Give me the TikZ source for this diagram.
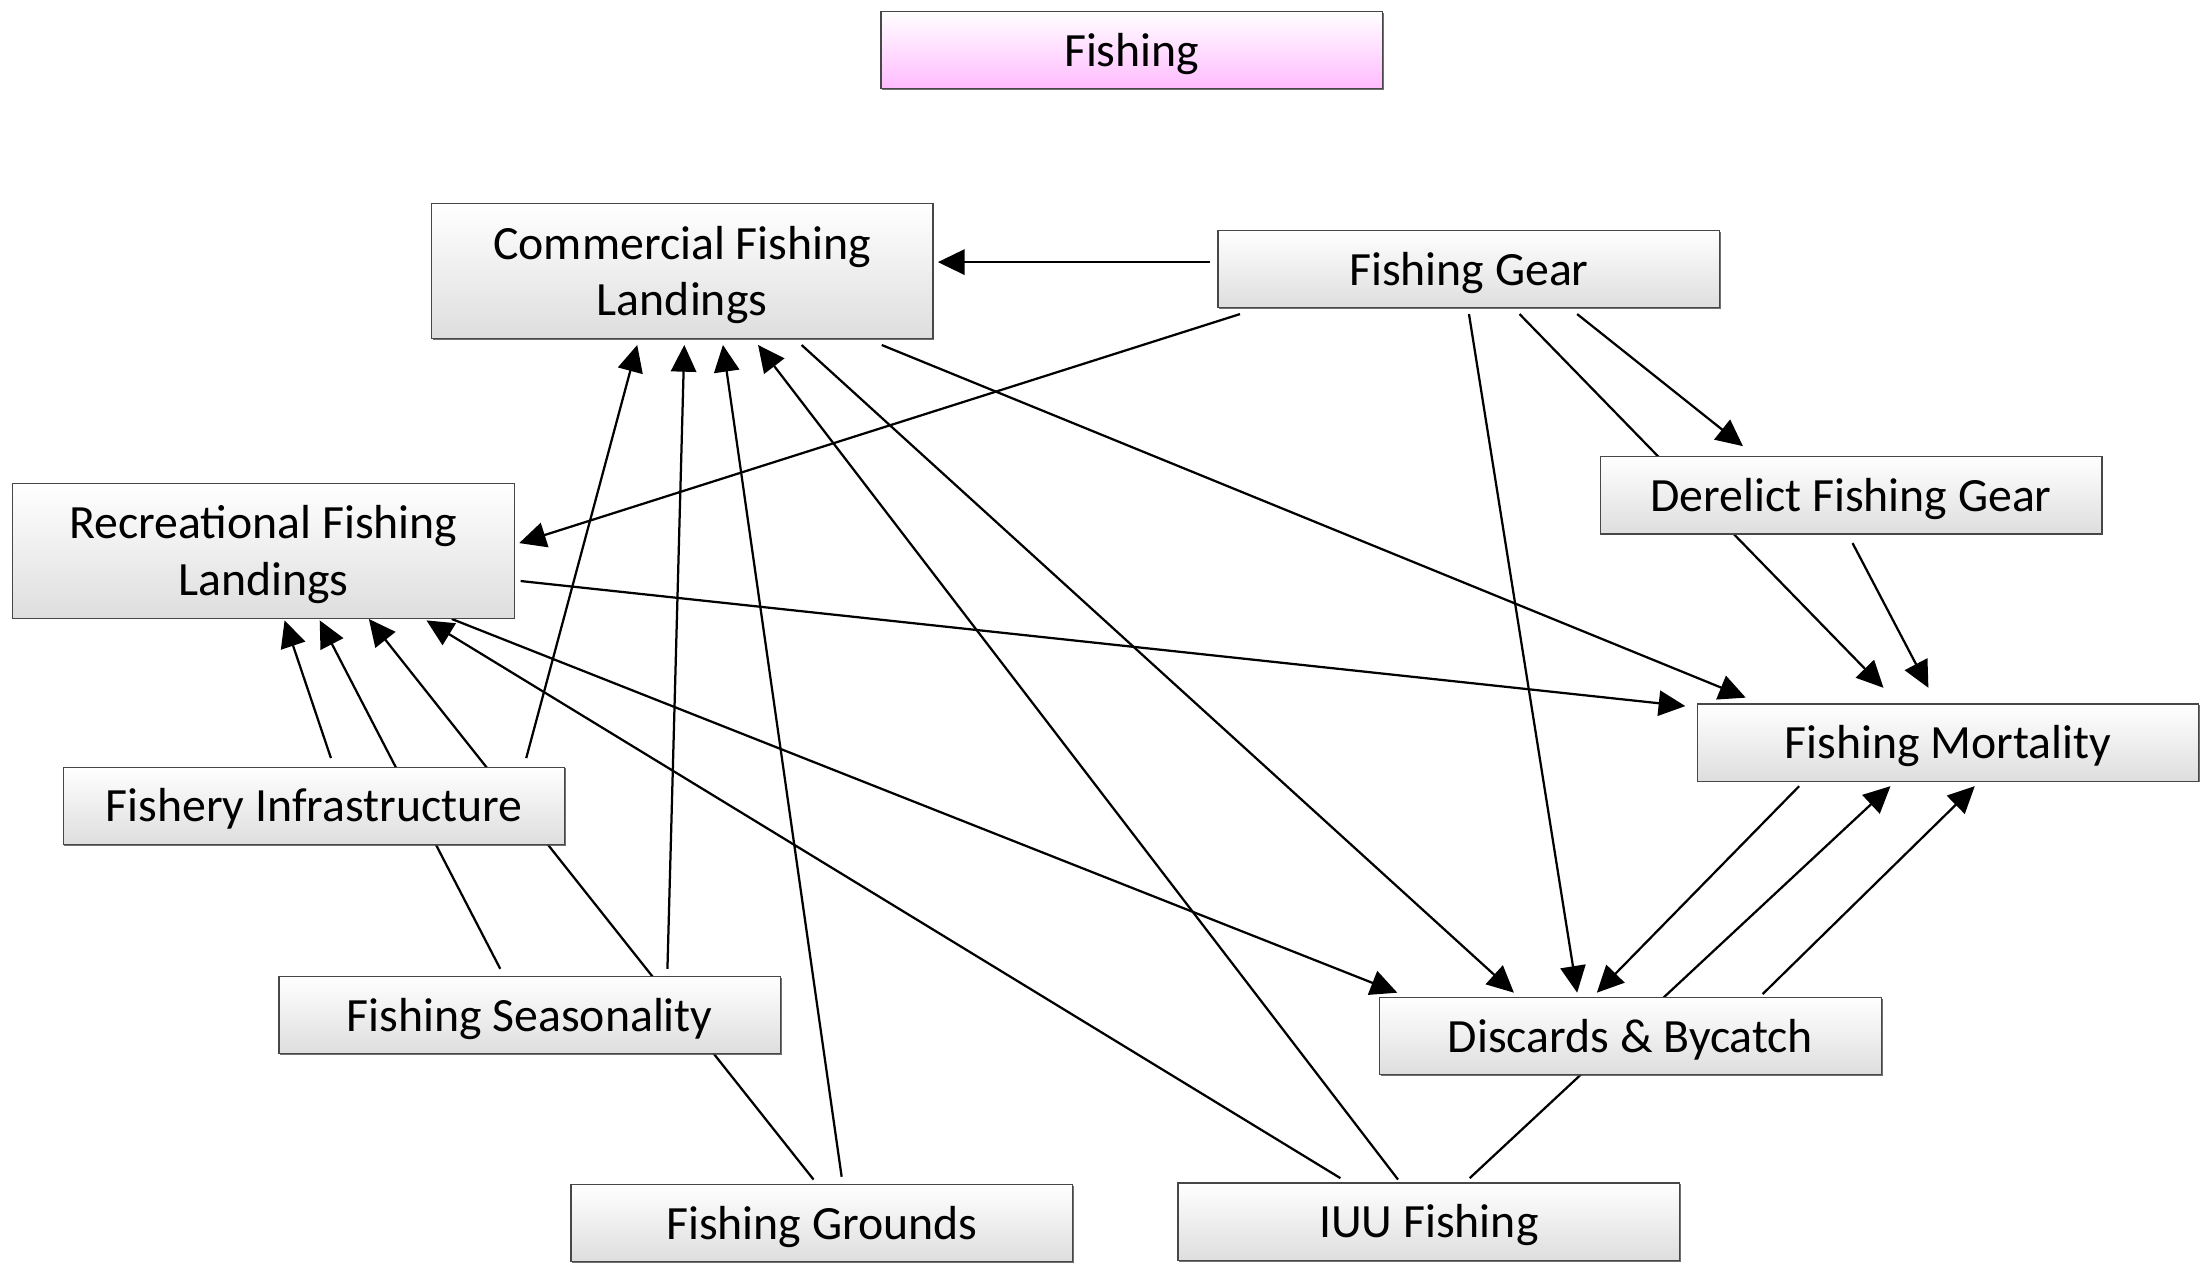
\documentclass[tikz,border=0pt]{standalone}
\usepackage{fontspec}
\setmainfont{Carlito}
\usetikzlibrary{arrows.meta,calc,backgrounds,shadows}
\definecolor{pinkb}{RGB}{255,188,255}
\newcommand\bxl[1]{\raisebox{-11.5pt}[0pt][0pt]{#1}}
\tikzset{
  box/.style={draw=black!72, line width=0.9pt, top color=white, bottom color=black!13,
    minimum width=357pt, minimum height=55pt, inner sep=0pt, align=center,
    font=\fontsize{34}{40}\selectfont,
    drop shadow={shadow xshift=0.9pt, shadow yshift=-0.9pt, fill=black!70, opacity=0.8}},
  tallbox/.style={box, minimum height=96pt},
  pinkbox/.style={box, bottom color=pinkb},
  arr/.style={line width=1.6pt, -{Triangle[length=19pt,width=18pt]}},
  plain/.style={line width=1.6pt}
}
\begin{document}
\begin{tikzpicture}[x=1pt,y=-1pt]
\useasboundingbox (0,0) rectangle (1568,903);
% nodes
\node[pinkbox] (F) at (805.5,35.5) {\bxl{Fishing}};
\node[tallbox] (CFL) at (485.5,193) {\bxl{Commercial Fishing}\\\bxl{Landings}};
\node[box] (FG) at (1045.5,191.5) {\bxl{Fishing Gear}};
\node[tallbox] (RFL) at (187.5,392) {\bxl{Recreational Fishing}\\\bxl{Landings}};
\node[box] (DFG) at (1317.5,352.5) {\bxl{Derelict Fishing Gear}};
\node[box] (FM) at (1386.5,528.5) {\bxl{Fishing Mortality}};
\node[box] (FI) at (223.5,573.5) {\bxl{Fishery Infrastructure}};
\node[box] (FS) at (377,722.5) {\bxl{Fishing Seasonality}};
\node[box] (DB) at (1160.5,737.5) {\bxl{Discards \& Bycatch}};
\node[box] (FGr) at (585,870.5) {\bxl{Fishing Grounds}};
\node[box] (IUU) at (1017,869.5) {\bxl{IUU Fishing}};
% connectors
\begin{pgfonlayer}{background}
\draw[arr] ($(FG.north west)+(-5,23)$) -- ($(CFL.north west)+(361,42)$);
\draw[arr] ($(FG.north west)+(16,60)$) -- ($(RFL.north west)+(361,43)$);
\draw[arr] ($(FG.north west)+(179,60)$) -- ($(DB.north west)+(141,-3)$);
\draw[arr] ($(FG.north west)+(215,60)$) -- ($(FM.north west)+(133,-11)$);
\draw[arr] ($(FG.north west)+(256,60)$) -- ($(DFG.north west)+(102,-7)$);
\draw[arr] ($(DFG.north west)+(180,62)$) -- ($(FM.north west)+(165,-11)$);
\draw[arr] ($(CFL.north west)+(321,101)$) -- ($(FM.north west)+(35,-4)$);
\draw[arr] ($(CFL.north west)+(264,101)$) -- ($(DB.north west)+(96,-3)$);
\draw[arr] ($(RFL.north west)+(362,70)$) -- ($(FM.north west)+(-8,2)$);
\draw[arr] ($(RFL.north west)+(313,97)$) -- ($(DB.north west)+(13,-3)$);
\draw[arr] ($(IUU.north west)+(116,-3)$) -- ($(RFL.north west)+(295,98)$);
\draw[arr] ($(IUU.north west)+(157,-2)$) -- ($(CFL.north west)+(233,101)$);
\draw[arr] ($(IUU.north west)+(208,-3)$) -- ($(FM.north west)+(138,59)$);
\draw[arr] ($(DB.north west)+(273,-2)$) -- ($(FM.north west)+(198,59)$);
\draw[arr] ($(FM.north west)+(73,59)$) -- ($(DB.north west)+(155,-3)$);
\draw[arr] ($(FI.north west)+(191,-6)$) -- ($(RFL.north west)+(194,98)$);
\draw[arr] ($(FS.north west)+(158,-5)$) -- ($(RFL.north west)+(219,98)$);
\draw[arr] ($(FGr.north west)+(173,-3)$) -- ($(RFL.north west)+(254,97)$);
\draw[arr] ($(FI.north west)+(330,-6)$) -- ($(CFL.north west)+(147,101)$);
\draw[arr] ($(FS.north west)+(277,-5)$) -- ($(CFL.north west)+(180.5,101)$);
\draw[arr] ($(FGr.north west)+(193,-5)$) -- ($(CFL.north west)+(208,101)$);
\end{pgfonlayer}
\end{tikzpicture}
\end{document}
